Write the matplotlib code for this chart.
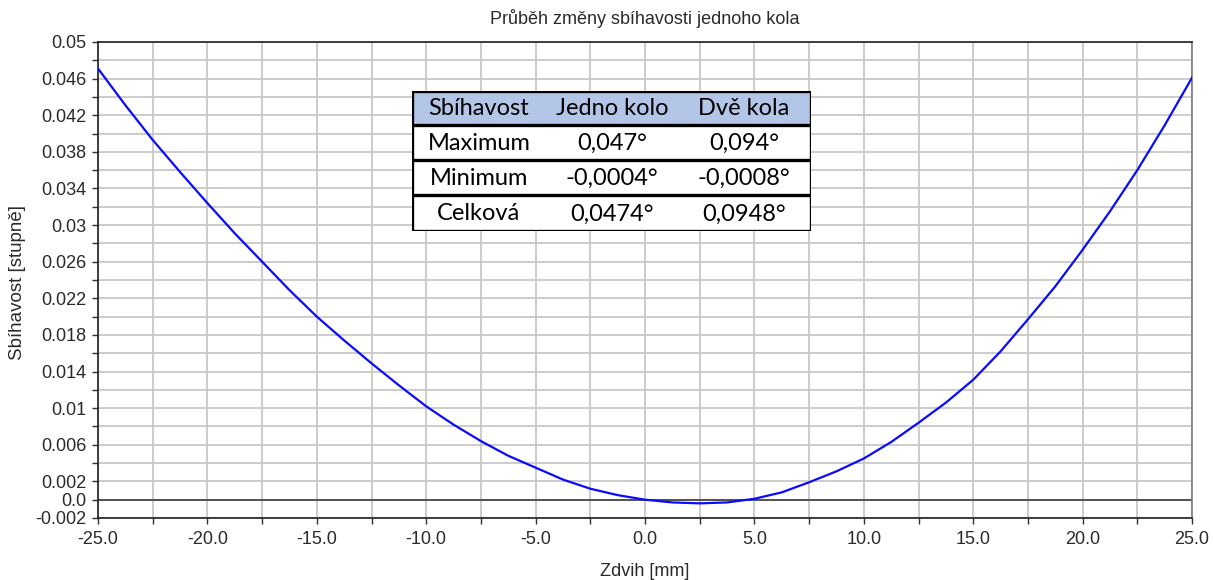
import matplotlib
matplotlib.use("Agg")
import matplotlib.pyplot as plt
from matplotlib.patches import Rectangle
from matplotlib.ticker import MultipleLocator, FixedLocator, FuncFormatter

# Wheel toe change over suspension travel
zdvih_mm = [-25.0, -23.75, -22.5, -21.25, -20.0, -18.75, -17.5, -16.25, -15.0,
            -13.75, -12.5, -11.25, -10.0, -8.75, -7.5, -6.25, -5.0, -3.75, -2.5,
            -1.25, 0.0, 1.25, 2.5, 3.75, 5.0, 6.25, 7.5, 8.75, 10.0, 11.25, 12.5,
            13.75, 15.0, 16.25, 17.5, 18.75, 20.0, 21.25, 22.5, 23.75, 25.0]
sbihavost_deg = [0.0471, 0.0431, 0.0393, 0.0358, 0.0324, 0.0291, 0.0260, 0.0229,
                 0.0200, 0.0174, 0.0149, 0.0125, 0.0102, 0.0082, 0.0064, 0.0048,
                 0.0035, 0.0022, 0.0012, 0.0005, 0.0000, -0.0003, -0.0004, -0.0003,
                 0.0001, 0.0008, 0.0019, 0.0031, 0.0045, 0.0063, 0.0084, 0.0106,
                 0.0131, 0.0162, 0.0197, 0.0233, 0.0273, 0.0315, 0.0360, 0.0409,
                 0.0461]

y_labeled_ticks = [0.05, 0.046, 0.042, 0.038, 0.034, 0.03, 0.026, 0.022, 0.018,
                   0.014, 0.01, 0.006, 0.002, 0.0, -0.002]
y_tick_texts = ["0.05", "0.046", "0.042", "0.038", "0.034", "0.03", "0.026", "0.022",
                "0.018", "0.014", "0.01", "0.006", "0.002", "0.0", "-0.002"]

table_header = ["Sbíhavost", "Jedno kolo", "Dvě kola"]
table_rows = [
    ["Maximum", "0,047°", "0,094°"],
    ["Minimum", "-0,0004°", "-0,0008°"],
    ["Celková", "0,0474°", "0,0948°"],
]

W, H = 1213, 580
fig = plt.figure(figsize=(W / 100, H / 100), dpi=100)
plt.rcParams["font.family"] = ["Liberation Sans", "DejaVu Sans"]

left, right, top, bottom = 98, 1192, 42, 518
ax = fig.add_axes([left / W, 1 - bottom / H, (right - left) / W, (bottom - top) / H])

text_col = "#2a2a2a"
grid_col = "#c8c8c8"
fs = 13

ax.set_xlim(-25, 25)
ax.set_ylim(-0.002, 0.05)

# grid every 2.5 mm / 0.002 deg
ax.xaxis.set_major_locator(MultipleLocator(5))
ax.xaxis.set_minor_locator(MultipleLocator(2.5))
ax.xaxis.set_major_formatter(FuncFormatter(lambda v, p: f"{v:.1f}"))
ax.yaxis.set_major_locator(FixedLocator(y_labeled_ticks))
ax.set_yticklabels(y_tick_texts)
minor_y = [round(-0.002 + 0.002 * i, 4) for i in range(27)]
ax.yaxis.set_minor_locator(FixedLocator(minor_y))

ax.grid(True, which="both", color=grid_col, linewidth=1.3)
ax.set_axisbelow(True)
ax.axhline(0.0, color="#303030", linewidth=1.1, zorder=1.5)

ax.tick_params(which="both", direction="out", length=4.5, width=1.0,
               color="#303030", labelsize=fs, labelcolor=text_col)
ax.tick_params(axis="x", pad=5)
ax.tick_params(axis="y", pad=4)
ax.tick_params(right=False, top=False)

for s in ["left", "bottom", "top"]:
    ax.spines[s].set_color("#202020")
    ax.spines[s].set_linewidth(1.2)
ax.spines["right"].set_color("#7a7a7a")
ax.spines["right"].set_linewidth(1.2)

ax.plot(zdvih_mm, sbihavost_deg, color="#0a0aff", linewidth=1.6, zorder=3)

fig.text((left + right) / 2 / W, 1 - 19 / H, "Průběh změny sbíhavosti jednoho kola",
         ha="center", va="center", fontsize=fs, color=text_col)
fig.text((left + right) / 2 / W, 1 - 571 / H, "Zdvih [mm]",
         ha="center", va="center", fontsize=fs, color=text_col)
fig.text(18 / W, 1 - 282 / H, "Sbíhavost [stupně]", rotation=90,
         ha="center", va="center", fontsize=fs + 0.5, color=text_col)

# summary table
tx0, tx1, ty0, ty1 = 412, 811, 91, 231
tab = fig.add_axes([tx0 / W, 1 - ty1 / H, (tx1 - tx0) / W, (ty1 - ty0) / H])
tab.set_xlim(tx0, tx1)
tab.set_ylim(ty1, ty0)
tab.axis("off")
row_edges = [91, 125, 160, 195, 231]
col_centers = [479, 612, 744]
tab.add_patch(Rectangle((tx0, row_edges[0]), tx1 - tx0, row_edges[1] - row_edges[0],
                        facecolor="#b4c6e7", edgecolor="none"))
tab.add_patch(Rectangle((tx0, row_edges[1]), tx1 - tx0, row_edges[-1] - row_edges[1],
                        facecolor="white", edgecolor="none"))
for yy in row_edges:
    tab.plot([tx0, tx1], [yy, yy], color="black", linewidth=2.4, solid_capstyle="projecting")
for xx in (tx0, tx1):
    tab.plot([xx, xx], [ty0, ty1], color="black", linewidth=2.4, solid_capstyle="projecting")

cell_font = ["Lato", "DejaVu Sans"]
all_rows = [table_header] + table_rows
for r, row in enumerate(all_rows):
    yc = (row_edges[r] + row_edges[r + 1]) / 2 + 1
    for c, txt in enumerate(row):
        tab.text(col_centers[c], yc, txt, ha="center", va="center",
                 fontsize=17, color="black", family=cell_font)

fig.savefig("out.png", dpi=100)
